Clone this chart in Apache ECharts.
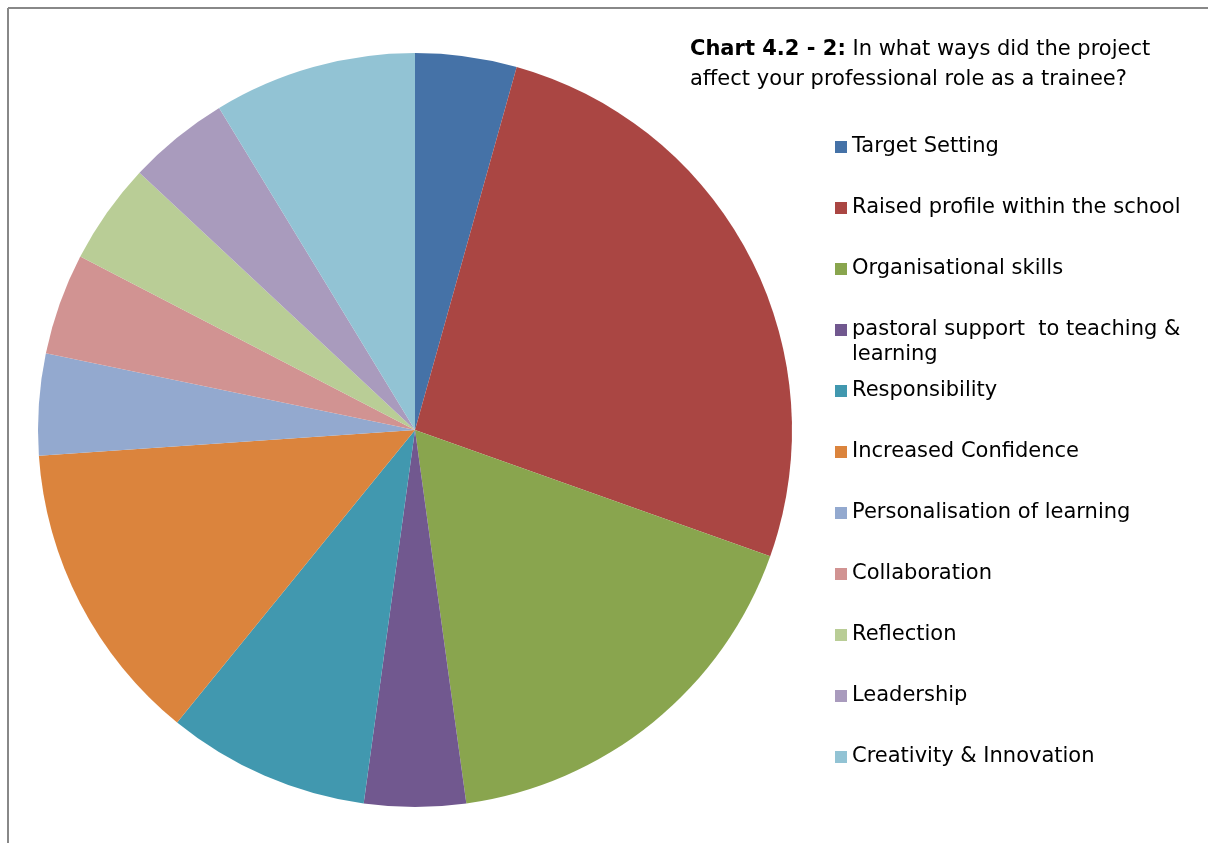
<!DOCTYPE html>
<html>
<head>
<meta charset="utf-8">
<script src="https://cdn.jsdelivr.net/npm/echarts@6/dist/echarts.min.js"></script>
<style>
  html, body { margin: 0; padding: 0; background: #fff; }
  #chart { width: 1208px; height: 843px; }
</style>
</head>
<body>
<div id="chart"></div>
<script>
  // categories and their response counts
  var categories = [
    'Target Setting',
    'Raised profile within the school',
    'Organisational skills',
    'pastoral support  to teaching &\nlearning',
    'Responsibility',
    'Increased Confidence',
    'Personalisation of learning',
    'Collaboration',
    'Reflection',
    'Leadership',
    'Creativity & Innovation'
  ];
  var counts = [1, 6, 4, 1, 2, 3, 1, 1, 1, 1, 2];
  var colors = ['#4572A7', '#AA4643', '#89A54E', '#71588F', '#4198AF', '#DB843D',
                '#93A9CF', '#D19392', '#B9CD96', '#A99BBD', '#92C3D4'];

  var FONT = '"DejaVu Sans", Verdana, sans-serif';

  var myChart = echarts.init(document.getElementById('chart'));

  var pieData = categories.map(function (c, i) {
    return { name: c, value: counts[i], itemStyle: { color: colors[i] } };
  });

  // one legend per item so rows stay evenly spaced even with the wrapped label.
  // the wrapped one gets a taller icon box with the square at its top, so the
  // square lines up with the first text line like in Excel
  var legends = categories.map(function (c, i) {
    var wrapped = c.indexOf('\n') >= 0;
    return {
      data: [c],
      orient: 'vertical',
      left: 835,
      top: 134.5 + i * 61,
      padding: 0,
      itemWidth: 12,
      itemHeight: wrapped ? 37 : 12,
      itemGap: 0,
      icon: wrapped ? 'path://M0,0h12v12h-12zM0,36h0.001v1h-0.001z' : 'rect',
      selectedMode: false,
      textStyle: {
        fontFamily: FONT,
        fontSize: 21,
        color: '#000',
        lineHeight: 25
      }
    };
  });

  var option = {
    animation: false,
    title: {
      left: 685,
      top: 30,
      text: '{b|Chart 4.2 - 2:} In what ways did the project\naffect your professional role as a trainee?',
      textStyle: {
        fontFamily: FONT,
        fontSize: 21,
        fontWeight: 'normal',
        color: '#000',
        lineHeight: 30,
        rich: {
          b: { fontFamily: FONT, fontSize: 21, fontWeight: 'bold', color: '#000', lineHeight: 30 }
        }
      }
    },
    legend: legends,
    graphic: [
      { type: 'line', shape: { x1: 8, y1: 8, x2: 1208, y2: 8 }, style: { stroke: '#888', lineWidth: 2 } },
      { type: 'line', shape: { x1: 8, y1: 8, x2: 8, y2: 843 }, style: { stroke: '#888', lineWidth: 2 } }
    ],
    series: [{
      type: 'pie',
      center: [415, 430],
      radius: 377,
      startAngle: 90,
      clockwise: true,
      label: { show: false },
      labelLine: { show: false },
      emphasis: { disabled: true },
      itemStyle: { borderWidth: 0 },
      data: pieData
    }]
  };

  myChart.setOption(option);
</script>
</body>
</html>
